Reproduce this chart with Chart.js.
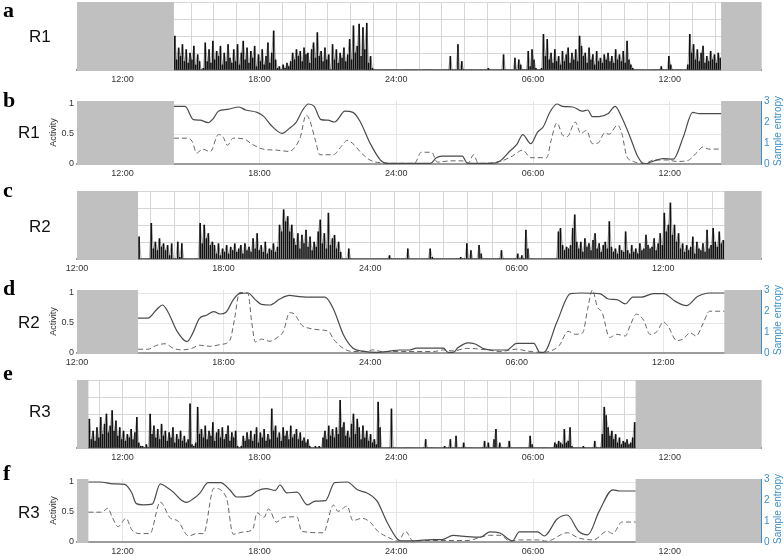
<!DOCTYPE html>
<html><head><meta charset="utf-8">
<script src="https://cdn.jsdelivr.net/npm/chart.js@4/dist/chart.umd.min.js"></script>
<style>
html,body{margin:0;padding:0;background:#fff;}
#wrap{position:relative;width:784px;height:556px;overflow:hidden;font-family:"Liberation Sans",Arial,sans-serif;}
canvas{position:absolute;left:0;}
.lt{position:absolute;left:3px;font-family:"Liberation Serif","DejaVu Serif",serif;font-weight:bold;font-size:22px;line-height:22px;color:#000;}
.rl{position:absolute;font-size:17px;line-height:17px;color:#111;}
.se{position:absolute;font-size:10px;line-height:10px;color:#3b8ec8;white-space:nowrap;transform:translate(-50%,-50%) rotate(-90deg);}
</style></head><body><div id="wrap"></div>
<script>
// ---------- labels ----------
const panelLetters = ['a','b','c','d','e','f'];
const recordLabels = ['R1','R1','R2','R2','R3','R3'];
const tickHours = [12,18,24,30,36];
const hourTickLabels = ['12:00','18:00','24:00','06:00','12:00'];
const activityTitle = 'Activity';
const entropyTitle = 'Sample entropy';
const activityTicks = [0,0.5,1];
const entropyTicks = [0,1,2,3];

// ---------- time windows (hours from midnight of day 1) ----------
const windowR1 = [10,40], windowR2 = [12,40], windowR3 = [10,40];
const recordingR1 = [14.25,38.25], recordingR2 = [14.5,38.5], recordingR3 = [10.5,34.5];
const sampleMinutes = 5;

// ---------- raw activity counts, 5-min samples from recording start (one row per hour) ----------
const countsR1 = [
2.0,0.6,1.3,0.8,1.5,0.5,1.2,0.4,1.0,0.6,1.4,0.3,
0.9,0.5,0,0.1,1.6,0.5,1.2,0.4,1.7,0.6,1.1,0.8,
1.4,0.3,1.0,0.5,1.5,0.7,0.4,1.2,0.5,1.5,0.3,1.0,
1.7,0.6,1.3,0.4,1.1,0.7,1.4,0.2,0.9,0.5,1.2,0.3,
0.8,1.6,0.4,1.0,2.3,0.6,0.1,0.2,0,0.3,0.1,0.4,
0.2,0.5,1.0,0.6,1.2,0.8,1.1,0.5,1.3,0.9,1.0,0.4,
1.2,1.6,0.7,2.2,0.8,1.1,0.5,1.3,0.6,0.9,0,1.5,
0.6,1.2,0.4,1.0,0.7,1.3,0.5,0.9,1.8,0.6,2.6,1.0,
1.4,2.7,0.8,2.5,1.2,2.75,0.4,0.8,0.1,0,0,0,
0,0,0,0,0,0,0,0,0,0,0,0,
0,0,0,0,0,0,0,0,0,0,0,0,
0,0,0,0,0,0,0,0,0,0,0,0,
0,0.8,0,0,0,1.5,0,0.5,0,0,0,0,
0,0,0,0,0,0,0,0,0,0.1,0,0,
0,0,0,0,0,0.9,0,0,0,0,0,0.7,
0,0.6,0.3,0,0,0,1.1,0.2,1.2,0.6,0.1,0,
0,0.1,2.1,0.8,1.8,0.6,1.0,0.4,1.2,0.5,0.8,0.3,
1.1,0.5,0.9,1.3,0.4,1.0,0.6,1.2,0.5,2.0,1.4,0.8,
1.0,0.4,1.3,0.6,0.9,0.3,1.1,0.5,0.7,0.4,0.9,0.6,
1.0,0.5,0.8,0.4,1.2,0.6,0.9,0.5,1.1,0.4,1.7,0.6,
0.3,0.1,0,0,0,0,0,0,0,0,0,0,
0,0,0,0,0.2,0,0,0,0.8,0.3,0,0,
0,0,0,0,0,0,0.3,2.1,1.0,1.5,0.6,1.2,
0.5,1.0,1.4,0.4,0.8,0.5,1.1,0.6,0.9,0.4,1.0,0.7];

const countsR2 = [
1.3,0,0,0,0,0,2.1,0.6,1.0,0.5,1.2,0.7,
0.9,0.5,0.8,0.2,0.9,0,0,1.0,0.1,0.9,0,0,
0,0,0,0,0,0,2.1,0.9,2.0,1.2,1.5,0.8,
1.0,0.8,0.3,0.9,0.2,0.6,0.4,0.8,0.3,0.7,0.5,0.9,
0.4,0.6,0.8,0.3,0.9,0.5,0.7,0.4,1.2,0.6,1.5,0.5,
0.8,0.4,1.0,0.3,0.6,0.5,0.9,0.4,0.7,2.0,1.6,2.9,
2.2,2.5,1.6,2.0,1.2,0.8,1.5,0.6,1.4,0.9,1.7,0.7,
1.3,0.5,1.0,0.7,1.6,2.3,0.9,1.5,0.6,2.7,0.8,1.2,
1.4,0.6,1.0,0.4,0,0,0,0.6,0,0,0,0,
0,0,0,0,0,0,0,0,0,0,0,0,
0,0,0,0.2,0,0,0,0,0,0,0,0,
0.6,0,0,0,0,0,0,0,0,0,0,0.6,
0.1,0,0,0,0,0,0,0,0,0,0,0,
0,0,0.1,0,0,0.9,0,0.5,0,0,0,0.8,
0.3,0,0,0,0,0,0,0,0,0,0.5,0,
0,0,0,0,0,0,0.3,0,0.2,0,1.7,0.6,
0,0,0,0,0,0,0,0,0,0,0,0,
0,0,1.6,1.8,0.8,0.5,0.7,0.6,0.8,1.8,2.6,1.0,
0.6,1.0,0.4,1.2,0.7,0.9,0.5,1.1,1.5,0.6,0.9,0.4,
0.8,1.0,0.6,2.2,0.7,0.4,0.6,0.3,0.8,0.5,0.4,1.6,
0.5,0.3,0.8,0.4,0.6,0.3,0.9,0.5,0.6,1.4,0.8,0.6,
0.7,1.2,0.5,0.9,1.5,0.8,2.7,1.6,2.0,3.3,1.4,2.0,
1.0,1.5,0.6,0.9,0.4,0.8,0.5,0.7,1.3,0.3,1.0,0.6,
0.5,0.9,0.4,1.7,0.6,0.8,1.8,1.0,0.7,1.6,0.9,1.1];

const countsR3 = [
1.7,0.5,1.0,0.4,1.2,0.6,1.8,0.8,1.4,2.0,0.9,1.3,
2.2,1.0,1.6,0.7,1.2,0.5,1.0,0.4,0.8,0.6,1.1,0.5,
0.9,1.8,0.3,0.1,0.1,0,0.2,0,2.0,0.8,1.3,0.6,
1.1,0.5,1.4,0.7,1.0,0.4,0.9,0.6,1.2,0.3,0.8,0.5,
1.0,0.4,0.7,0.3,0.5,2.6,0.2,0.1,0.3,2.4,0.8,1.1,
0.6,1.3,0.5,1.0,0.7,1.5,0.4,0.9,1.1,0.6,1.2,0.5,
0.8,1.3,0.4,0.9,0.6,1.0,0.1,0,0.1,0.7,0.4,0.9,
0.5,1.0,0.4,0.8,1.2,0.3,0.9,0.6,1.1,0.4,0.8,0.5,
2.3,1.0,1.3,0.6,0.9,0.4,1.2,0.7,1.0,0.5,1.3,0.6,
0.8,1.1,0.5,0.9,0.4,0.6,0.3,0.5,0.1,0,0,0.1,
0,0.1,0,0.6,1.0,0.5,1.3,0.7,1.1,0.6,1.2,0.8,
2.8,1.2,1.5,0.7,1.0,0.6,1.4,2.0,0.8,1.7,1.2,0.5,
1.3,0.6,1.0,0.4,0.8,0.3,0.5,0.2,2.7,1.2,0,0,
0,0,0,2.3,0,0,0,0,0,0,0,0,
0,0,0,0,0,0,0,0,0,0.5,0,0,
0,0,0,0,0,0,0,0.1,0,0,0.5,0,
0,0.7,0,0,0,0.3,0,0,0,0,0,0,
0,0,0,0,0.4,0,0.3,0,0,0.5,1.1,0,
0.3,0,0,0,0,0.4,0,0,0,0,0,0,
0,0,0,0,0.7,0.2,0,0,0,0,0,0,
0,0,0,0,0,0.3,0.2,0.4,0.3,0.2,1.1,0.3,
0.4,1.2,0.1,0,0,0,0,0,0.1,0,0,0,
0,0,0.4,0,0,0,0.8,2.4,1.9,1.2,0.7,1.0,
0.5,0.8,0.3,0.6,0.2,0.4,0.3,0.5,0.2,0.3,0.6,1.5];

// ---------- smoothed activity (left axis) and sample entropy (right axis): [hour, value] ----------
const smoothActR1 = [[14.25,0.96],[14.74,0.96],[15.1,0.74],[15.4,0.73],[15.75,0.69],[16.0,0.77],[16.2,0.88],[16.6,0.91],[17.1,0.95],[17.4,0.90],[17.9,0.86],[18.2,0.79],[18.5,0.65],[19.0,0.51],[19.3,0.59],[19.6,0.69],[19.9,0.90],[20.15,1.0],[20.4,0.96],[20.7,0.74],[21.0,0.73],[21.3,0.70],[21.75,0.88],[22.1,0.86],[22.4,0.72],[22.85,0.35],[23.3,0.07],[23.6,0.01],[24.2,0.01],[25.0,0.01],[25.5,0.01],[25.75,0.10],[26.0,0.13],[26.9,0.13],[27.1,0.02],[27.4,0.01],[28.2,0.01],[28.55,0.05],[29.0,0.22],[29.3,0.33],[29.55,0.49],[29.9,0.34],[30.2,0.53],[30.45,0.62],[30.75,0.87],[31.05,1.0],[31.3,0.96],[31.75,0.95],[32.15,0.88],[32.4,0.90],[32.6,0.79],[32.9,0.79],[33.3,0.84],[33.6,0.96],[33.9,0.77],[34.25,0.46],[34.6,0.12],[34.9,0.0],[35.3,0.05],[35.7,0.09],[36.15,0.08],[36.6,0.46],[37.0,0.86],[37.3,0.84],[38.25,0.84]];
const entropyR1 = [[14.25,1.23],[14.8,1.23],[15.05,1.08],[15.25,0.52],[15.5,0.71],[15.85,0.59],[16.2,1.40],[16.4,1.30],[16.6,0.89],[16.85,1.23],[17.3,1.20],[17.7,0.93],[18.15,0.71],[18.75,0.66],[19.3,0.60],[19.6,0.86],[19.8,1.30],[20.05,2.33],[20.2,2.10],[20.45,1.15],[20.65,0.44],[21.25,0.44],[21.55,0.78],[21.85,1.12],[22.1,0.97],[22.5,0.49],[22.85,0.19],[23.3,0.06],[24.2,0.03],[24.8,0.03],[25.1,0.56],[25.55,0.56],[25.8,0.09],[26.4,0.15],[26.9,0.15],[27.15,0.03],[27.4,0.44],[27.6,0.03],[28.55,0.12],[29.1,0.38],[29.55,0.66],[29.9,0.30],[30.6,0.30],[30.8,1.15],[31.05,1.96],[31.3,1.37],[31.5,1.30],[31.85,2.0],[32.1,1.45],[32.35,1.60],[32.6,0.97],[32.85,1.0],[33.15,1.48],[33.35,1.42],[33.7,1.85],[33.9,1.45],[34.1,0.41],[34.4,0.12],[34.9,0.03],[35.3,0.19],[35.9,0.19],[36.3,0.12],[36.75,0.15],[37.2,0.56],[37.45,0.81],[37.7,0.71],[38.25,0.71]];

const smoothActR2 = [[14.5,0.58],[14.9,0.58],[15.27,0.73],[15.5,0.80],[15.73,0.68],[16.1,0.36],[16.5,0.19],[16.75,0.34],[17.0,0.57],[17.3,0.63],[17.6,0.69],[17.85,0.65],[18.1,0.68],[18.4,0.89],[18.65,0.99],[19.0,1.0],[19.3,0.89],[19.55,0.81],[19.9,0.80],[20.3,0.90],[20.7,0.96],[21.1,0.94],[21.65,0.93],[22.15,0.93],[22.5,0.73],[22.9,0.31],[23.3,0.08],[23.7,0.03],[24.3,0.01],[24.8,0.03],[25.2,0.05],[25.6,0.05],[25.9,0.08],[27.0,0.08],[27.2,0.01],[27.4,0.01],[27.6,0.09],[28.0,0.17],[28.3,0.15],[28.6,0.08],[29.0,0.05],[29.6,0.05],[30.0,0.16],[30.7,0.16],[30.95,0.01],[31.1,0.01],[31.65,0.52],[32.2,0.99],[32.65,1.0],[33.4,0.99],[33.75,0.90],[34.1,0.89],[34.45,0.82],[34.75,0.93],[35.1,0.93],[35.6,0.99],[36.0,0.99],[36.5,0.86],[36.95,0.79],[37.4,0.94],[37.9,1.0],[38.5,1.0]];
const entropyR2 = [[14.5,0.18],[14.9,0.18],[15.27,0.37],[15.6,0.44],[15.95,0.22],[16.3,0.15],[16.7,0.22],[17.0,0.37],[17.45,0.32],[17.9,0.41],[18.25,0.59],[18.45,1.62],[18.65,2.88],[19.0,2.84],[19.15,1.48],[19.3,0.52],[19.55,0.66],[19.9,0.56],[20.2,0.74],[20.45,1.03],[20.7,1.92],[20.9,1.85],[21.2,1.33],[21.5,1.18],[21.95,1.10],[22.3,1.03],[22.5,0.66],[22.9,0.22],[23.3,0.07],[23.85,0.07],[24.1,0.15],[24.5,0.07],[26.6,0.07],[27.0,0.15],[27.4,0.10],[27.95,0.22],[28.8,0.15],[29.3,0.07],[30.0,0.18],[30.4,0.10],[30.95,0.03],[31.4,0.10],[31.75,0.37],[32.1,1.03],[32.4,0.89],[32.7,0.96],[32.9,2.07],[33.1,3.0],[33.3,2.2],[33.5,1.92],[33.8,0.74],[34.1,0.89],[34.45,0.81],[34.65,1.33],[34.9,1.85],[35.2,1.55],[35.45,0.89],[35.75,1.03],[36.0,1.48],[36.2,1.26],[36.55,0.59],[36.8,0.66],[37.1,0.96],[37.35,0.81],[37.6,1.33],[37.9,1.99],[38.5,1.99]];

const smoothActR3 = [[10.5,1.0],[11.0,1.0],[11.6,0.97],[12.1,0.96],[12.4,0.82],[12.6,0.64],[12.9,0.62],[13.3,0.63],[13.65,0.97],[13.95,0.91],[14.2,0.84],[14.6,0.69],[14.8,0.66],[15.1,0.72],[15.4,0.82],[15.75,0.99],[16.3,0.99],[16.7,0.87],[17.0,0.75],[17.6,0.77],[17.9,0.85],[18.3,0.89],[18.7,0.86],[18.9,0.95],[19.2,0.82],[19.65,0.83],[20.1,0.62],[20.45,0.68],[20.9,0.69],[21.3,0.99],[21.85,1.0],[22.3,0.87],[22.7,0.82],[23.15,0.69],[23.6,0.33],[24.05,0.05],[24.2,0.02],[24.75,0.02],[25.6,0.04],[26.0,0.04],[26.5,0.11],[27.1,0.09],[27.7,0.08],[28.1,0.17],[28.55,0.15],[29.1,0.02],[29.4,0.17],[30.2,0.17],[30.5,0.10],[31.05,0.38],[31.5,0.45],[32.0,0.18],[32.4,0.12],[32.9,0.51],[33.5,0.87],[33.8,0.85],[34.5,0.85]];
const entropyR3 = [[10.5,1.42],[11.1,1.42],[11.35,1.61],[11.55,1.17],[11.8,0.73],[12.15,1.13],[12.4,0.59],[12.75,0.40],[13.2,0.40],[13.65,1.90],[14.1,1.13],[14.4,1.02],[14.9,0.29],[15.25,0.40],[15.55,0.40],[16.0,2.56],[16.55,2.12],[16.85,0.37],[17.3,0.48],[17.7,0.59],[17.9,1.39],[18.2,1.17],[18.4,1.57],[18.75,0.95],[19.05,1.17],[19.65,1.20],[19.85,0.51],[20.8,0.44],[21.25,1.76],[21.45,1.46],[21.85,1.71],[22.1,1.02],[22.5,1.13],[22.85,0.95],[23.2,0.51],[23.65,0.22],[24.1,0.04],[24.4,0.51],[24.75,0.04],[25.3,0.07],[27.1,0.07],[28.1,0.32],[28.55,0.32],[29.0,0.04],[29.4,0.10],[30.2,0.10],[30.6,0.04],[31.5,0.44],[32.0,0.19],[32.65,0.10],[33.25,0.51],[33.5,0.40],[33.9,0.95],[34.5,0.95]];

// ---------- layout ----------
const PLOT_LEFT = 77, PLOT_RIGHT = 761, W = 784;
const panels = [
  {type:'raw', top:2,   bottom:70,  win:windowR1, rec:recordingR1, counts:countsR1, letterTop:-1, rTop:28, rLeft:29},
  {type:'smooth', top:97, bottom:164, win:windowR1, rec:recordingR1, act:smoothActR1, ent:entropyR1, letterTop:89, rTop:124, rLeft:18},
  {type:'raw', top:191, bottom:259, win:windowR2, rec:recordingR2, counts:countsR2, letterTop:179, rTop:218, rLeft:29},
  {type:'smooth', top:286, bottom:353, win:windowR2, rec:recordingR2, act:smoothActR2, ent:entropyR2, letterTop:277, rTop:314, rLeft:18},
  {type:'raw', top:380, bottom:448, win:windowR3, rec:recordingR3, counts:countsR3, letterTop:362, rTop:403, rLeft:29},
  {type:'smooth', top:475, bottom:542, win:windowR3, rec:recordingR3, act:smoothActR3, ent:entropyR3, letterTop:462, rTop:504, rLeft:18}
];
const PAD_TOP = 5, XAXIS_H = 16;
const GRAY = '#c0c0c0', BLUE = '#3b8ec8';

const shadePlugin = {
  id:'shade',
  beforeDatasetsDraw(chart, args, opts){
    const {ctx, chartArea:a} = chart; const x = chart.scales.x;
    ctx.save(); ctx.fillStyle = GRAY;
    opts.spans.forEach(([s,e])=>{
      const x0 = x.getPixelForValue(s), x1 = x.getPixelForValue(e);
      ctx.fillRect(x0, a.top, x1-x0, a.bottom-a.top+1);
    });
    ctx.restore();
  }
};

function hourLabel(v){ const k = tickHours.indexOf(v); return k>=0 ? hourTickLabels[k] : ''; }
const tickFont = {family:'"Liberation Sans", Arial, sans-serif', size:9};

const wrap = document.getElementById('wrap');
panels.forEach((p, idx)=>{
  const cv = document.createElement('canvas');
  const h = p.bottom - p.top + PAD_TOP + XAXIS_H;
  cv.width = W; cv.height = h; cv.style.top = (p.top - PAD_TOP) + 'px';
  cv.style.width = W+'px'; cv.style.height = h+'px';
  wrap.appendChild(cv);

  const lt = document.createElement('div'); lt.className='lt'; lt.textContent = panelLetters[idx];
  lt.style.top = p.letterTop+'px'; wrap.appendChild(lt);
  const rl = document.createElement('div'); rl.className='rl'; rl.textContent = recordLabels[idx];
  rl.style.top = p.rTop+'px'; rl.style.left = p.rLeft+'px'; wrap.appendChild(rl);

  const spans = [[p.win[0], p.rec[0]], [p.rec[1], p.win[1]]];
  const xScale = {
    type:'linear', min:p.win[0], max:p.win[1], offset:false,
    afterBuildTicks(s){
      const t = [];
      if (p.type==='raw'){ for(let hh=Math.ceil(s.min); hh<=s.max; hh++) t.push({value:hh}); }
      else tickHours.forEach(v=>{ if(v>=s.min && v<=s.max) t.push({value:v}); });
      s.ticks = t;
    },
    afterFit(s){ s.height = XAXIS_H; },
    grid:{offset:false, color: p.type==='raw' ? '#d6d6d6' : '#e6e6e6', lineWidth:1, drawTicks:false, tickLength:0},
    border:{display:true, color:'#9c9c9c', width:2},
    ticks:{autoSkip:false, maxRotation:0, padding:4, color:'#333', font:tickFont, callback:(v)=>hourLabel(v)}
  };

  let cfg;
  if (p.type==='raw'){
    const pts = p.counts.map((v,i)=>({x: p.rec[0] + (i+0.5)*sampleMinutes/60, y: v}));
    cfg = {
      type:'bar',
      data:{datasets:[
        {type:'bar', data:pts, backgroundColor:'#111', borderWidth:0, barThickness:1, grouped:false},
        {type:'line', data:pts, borderColor:'rgba(0,0,0,0.5)', borderWidth:0.6, pointRadius:0, tension:0, fill:false}
      ]},
      options:{
        responsive:false, animation:false, devicePixelRatio:1,
        layout:{padding:{left:PLOT_LEFT, right:W-PLOT_RIGHT, top:PAD_TOP, bottom:0}},
        plugins:{legend:{display:false}, tooltip:{enabled:false}, shade:{spans}},
        scales:{
          x:xScale,
          y:{min:0, max:4, afterBuildTicks(s){ s.ticks=[0,1,2,3,4].map(v=>({value:v})); },
             afterFit(s){ s.width = 0; },
             grid:{color:'#d6d6d6', drawTicks:false, tickLength:0}, border:{display:false}, ticks:{display:false}}
        }
      },
      plugins:[shadePlugin]
    };
  } else {
    cfg = {
      type:'line',
      data:{datasets:[
        {data:p.act.map(([x,y])=>({x,y})), yAxisID:'y', borderColor:'#4a4a4a', borderWidth:1.2, pointRadius:0, cubicInterpolationMode:'monotone', fill:false},
        {data:p.ent.map(([x,y])=>({x,y})), yAxisID:'y2', borderColor:'#666', borderWidth:1, borderDash:[5,3], pointRadius:0, cubicInterpolationMode:'monotone', fill:false}
      ]},
      options:{
        responsive:false, animation:false, devicePixelRatio:1,
        layout:{padding:{left:48, right:0, top:PAD_TOP, bottom:0}},
        plugins:{legend:{display:false}, tooltip:{enabled:false}, shade:{spans}},
        scales:{
          x:xScale,
          y:{position:'left', min:0, max:1.05,
             afterBuildTicks(s){ s.ticks = activityTicks.map(v=>({value:v})); },
             afterFit(s){ s.width = PLOT_LEFT-48; },
             grid:{color:'#e6e6e6', drawTicks:false, tickLength:0}, border:{display:false},
             ticks:{padding:3, color:'#333', font:tickFont, callback:(v)=>String(v)},
             title:{display:true, text:activityTitle, color:'#333', font:tickFont, padding:0}},
          y2:{position:'right', min:0, max:3,
             afterBuildTicks(s){ s.ticks = entropyTicks.map(v=>({value:v})); },
             afterFit(s){ s.width = W-PLOT_RIGHT; },
             grid:{drawOnChartArea:false, drawTicks:false, tickLength:0}, border:{display:true, color:BLUE, width:1},
             ticks:{padding:3, color:BLUE, font:{family:tickFont.family, size:10}, callback:(v)=>String(v)}}
        }
      },
      plugins:[shadePlugin]
    };
    const se = document.createElement('div'); se.className='se'; se.textContent = entropyTitle;
    se.style.left = '778px'; se.style.top = ((p.top+p.bottom)/2)+'px'; wrap.appendChild(se);
  }
  new Chart(cv.getContext('2d'), cfg);
});
</script></body></html>
